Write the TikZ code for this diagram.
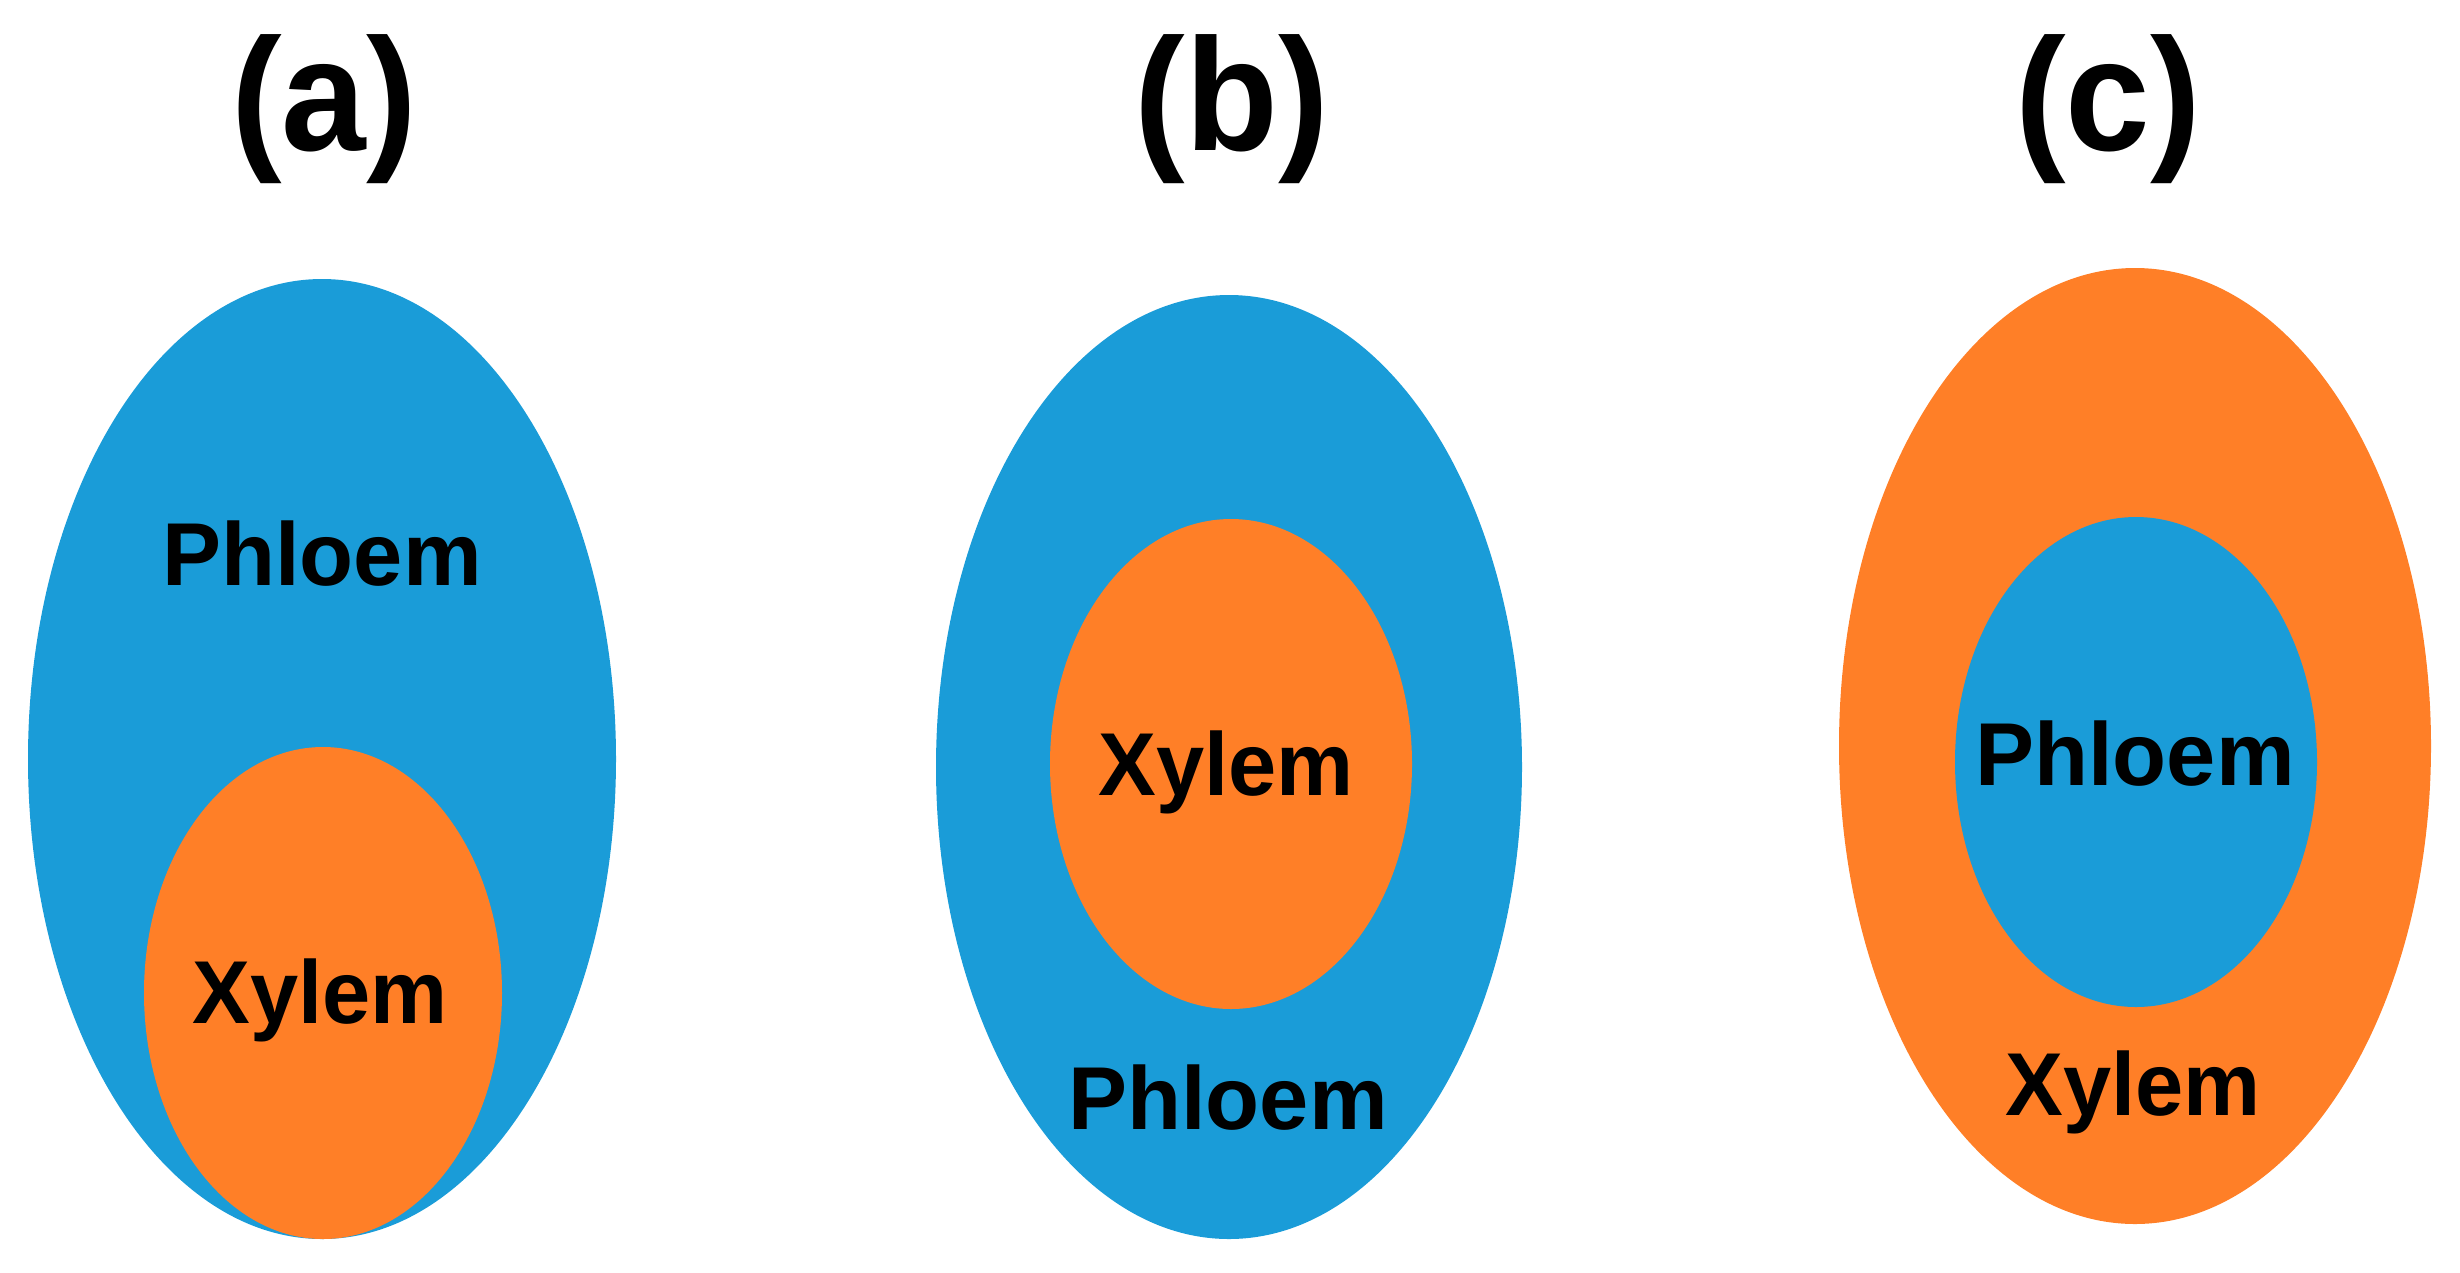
\documentclass[tikz,border=0pt]{standalone}
\usepackage{graphicx}
\usepackage{fontspec}
\setmainfont{Liberation Sans}
\definecolor{phl}{HTML}{1A9CD8}
\definecolor{xyl}{HTML}{FF7F27}
\begin{document}
\begin{tikzpicture}[x=0.01cm,y=-0.01cm,
  lbl/.style={anchor=base,inner sep=0pt,font=\bfseries\fontsize{25.4}{30}\selectfont},
  head/.style={anchor=base,inner sep=0pt,font=\bfseries\fontsize{45.5}{50}\selectfont}]
\useasboundingbox (0,0) rectangle (2460,1272);
% (a)
\fill[phl] (322,759) ellipse [x radius=294, y radius=480];
\fill[xyl] (323,993) ellipse [x radius=179, y radius=246];
% (b)
\fill[phl] (1229,767) ellipse [x radius=293, y radius=472];
\fill[xyl] (1231,764) ellipse [x radius=181, y radius=245];
% (c)
\fill[xyl] (2135,746) ellipse [x radius=296, y radius=478];
\fill[phl] (2136,762) ellipse [x radius=181, y radius=245];
% headings
\node[head] (ha) at (324,150) {\scalebox{0.95}[1]{(a)}};
\node[head] (hb) at (1232,150) {\scalebox{0.95}[1]{(b)}};
\node[head] (hc) at (2108,150) {\scalebox{0.95}[1]{(c)}};
% labels
\node[lbl] (pa) at (322,585) {\scalebox{0.99}[1]{Phloem}};
\node[lbl] (xa) at (320,1023) {\scalebox{0.97}[1]{Xylem}};
\node[lbl] (xb) at (1226,795) {\scalebox{0.97}[1]{Xylem}};
\node[lbl] (pb) at (1228,1129) {\scalebox{0.99}[1]{Phloem}};
\node[lbl] (pc) at (2135,785) {\scalebox{0.99}[1]{Phloem}};
\node[lbl] (xc) at (2133,1115) {\scalebox{0.97}[1]{Xylem}};
\end{tikzpicture}
\end{document}
